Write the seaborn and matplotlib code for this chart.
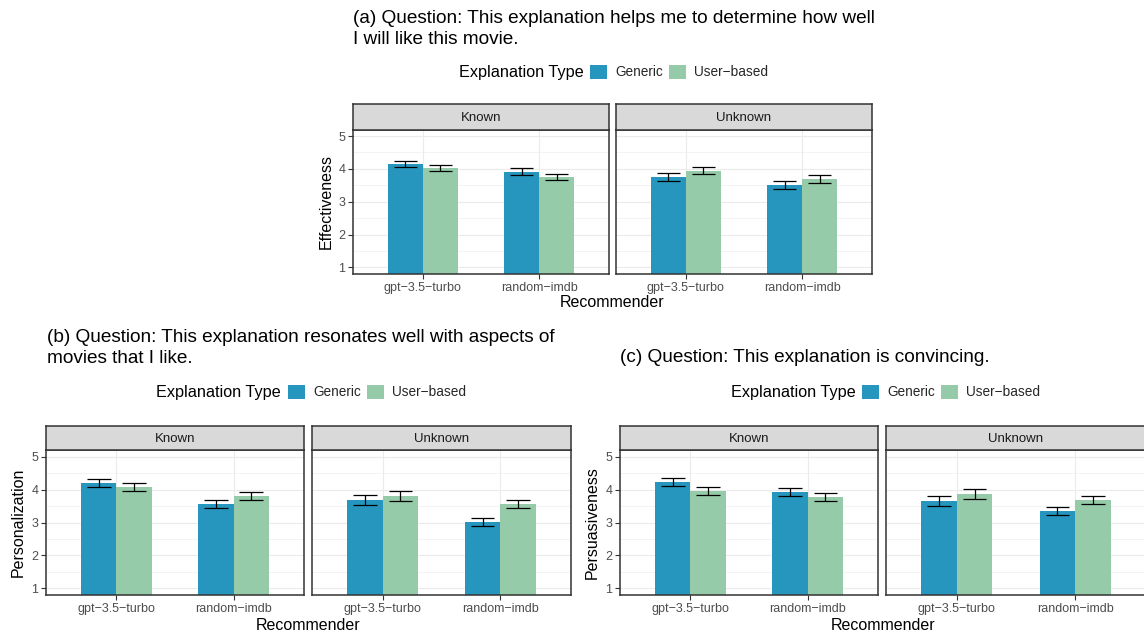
import matplotlib
matplotlib.use("Agg")
import matplotlib.pyplot as plt
from matplotlib.patches import Patch
from matplotlib.ticker import FixedLocator
import seaborn as sns
import pandas as pd

# ---------------- data ----------------
recommenders = ["gpt\u22123.5\u2212turbo", "random\u2212imdb"]
familiarity = ["Known", "Unknown"]
types = ["Generic", "User\u2212based"]

# order: Known/gpt, Known/random, Unknown/gpt, Unknown/random
eff_generic = [4.16, 3.92, 3.76, 3.51]
eff_generic_se = [0.09, 0.10, 0.12, 0.12]
eff_user = [4.04, 3.76, 3.95, 3.69]
eff_user_se = [0.09, 0.10, 0.12, 0.11]

pers_generic = [4.20, 3.56, 3.68, 3.02]
pers_generic_se = [0.11, 0.13, 0.16, 0.13]
pers_user = [4.08, 3.81, 3.81, 3.56]
pers_user_se = [0.11, 0.12, 0.15, 0.13]

persu_generic = [4.23, 3.93, 3.65, 3.35]
persu_generic_se = [0.11, 0.13, 0.16, 0.13]
persu_user = [3.96, 3.77, 3.87, 3.68]
persu_user_se = [0.12, 0.13, 0.15, 0.13]

y_ticks = [1, 2, 3, 4, 5]
titles = [
    "(a) Question: This explanation helps me to determine how well\nI will like this movie.",
    "(b) Question: This explanation resonates well with aspects of\nmovies that I like.",
    "(c) Question: This explanation is convincing.",
]
y_labels = ["Effectiveness", "Personalization", "Persuasiveness"]
colors = {"Generic": "#2696BE", "User\u2212based": "#95CBA9"}


def make_df(gen, gen_se, usr, usr_se):
    rows = []
    i = 0
    for fam in familiarity:
        for rec in recommenders:
            rows.append((fam, rec, types[0], gen[i], gen_se[i]))
            rows.append((fam, rec, types[1], usr[i], usr_se[i]))
            i += 1
    return pd.DataFrame(rows, columns=["Familiarity", "Recommender", "Type", "Score", "SE"])


dfs = [
    make_df(eff_generic, eff_generic_se, eff_user, eff_user_se),
    make_df(pers_generic, pers_generic_se, pers_user, pers_user_se),
    make_df(persu_generic, persu_generic_se, persu_user, persu_user_se),
]

# ---------------- layout (pixels) ----------------
W, H = 1144, 636
sns.set_theme(style="white")
plt.rcParams["font.family"] = ["Liberation Sans", "DejaVu Sans"]

fig = plt.figure(figsize=(W / 100, H / 100), dpi=100)
fig.patch.set_facecolor("white")


def rect(x0, y0, x1, y1):
    return [x0 / W, 1 - y1 / H, (x1 - x0) / W, (y1 - y0) / H]


layouts = [
    dict(xs=[(353, 609), (616, 872)], st=104, pt=129.5, pb=274,
         title=(353, 10), legend_y=72, leg_title_x=459, leg_key_x=590,
         ylab_x=326, xlab_y=303),
    dict(xs=[(46, 304), (312, 571)], st=426, pt=450, pb=595,
         title=(47, 329.5), legend_y=392, leg_title_x=156, leg_key_x=288,
         ylab_x=18, xlab_y=625),
    dict(xs=[(620, 878), (886, 1146)], st=426, pt=450, pb=595,
         title=(620, 349.5), legend_y=392, leg_title_x=731, leg_key_x=862,
         ylab_x=592, xlab_y=625),
]

border = "#333333"

for k, (df, lay) in enumerate(zip(dfs, layouts)):
    for j, fam in enumerate(familiarity):
        x0, x1 = lay["xs"][j]
        ax = fig.add_axes(rect(x0, lay["pt"], x1, lay["pb"]))
        sub = df[df["Familiarity"] == fam]
        sns.barplot(data=sub, x="Recommender", y="Score", hue="Type",
                    order=recommenders, hue_order=types, palette=colors,
                    width=0.6, errorbar=None, saturation=1, legend=False,
                    linewidth=0, edgecolor="none", ax=ax, zorder=2)
        for cont, t in zip(ax.containers, types):
            for bar, rec in zip(cont, recommenders):
                row = sub[(sub["Type"] == t) & (sub["Recommender"] == rec)].iloc[0]
                xc = bar.get_x() + bar.get_width() / 2
                lo, hi = row["Score"] - row["SE"], row["Score"] + row["SE"]
                ax.vlines(xc, lo, hi, color="black", lw=0.9, zorder=3)
                ax.hlines([lo, hi], xc - 0.1, xc + 0.1, color="black", lw=0.9, zorder=3)
        ax.set_xlim(-0.6, 1.6)
        ax.set_ylim(0.8, 5.2)
        ax.set_facecolor("white")
        ax.yaxis.set_major_locator(FixedLocator(y_ticks))
        ax.yaxis.set_minor_locator(FixedLocator([1.5, 2.5, 3.5, 4.5]))
        ax.grid(True, which="major", color="#EBEBEB", lw=0.8, zorder=0)
        ax.grid(True, which="minor", axis="y", color="#EBEBEB", lw=0.4, zorder=0)
        ax.set_axisbelow(True)
        for s in ax.spines.values():
            s.set_color(border)
            s.set_linewidth(1.1)
            s.set_visible(True)
        ax.tick_params(axis="both", which="major", direction="out", length=3.5,
                       width=0.8, color=border, labelsize=9, labelcolor="#4D4D4D", pad=2)
        ax.tick_params(axis="both", which="minor", length=0)
        ax.tick_params(axis="x", bottom=True)
        ax.tick_params(axis="y", left=True)
        if j == 0:
            ax.set_yticklabels([str(v) for v in y_ticks])
        else:
            ax.tick_params(axis="y", left=False, labelleft=False)
        ax.set_xlabel("")
        ax.set_ylabel("")
        # strip
        sax = fig.add_axes(rect(x0, lay["st"], x1, lay["pt"]))
        sax.set_facecolor("#D9D9D9")
        sax.set_xticks([])
        sax.set_yticks([])
        for s in sax.spines.values():
            s.set_color(border)
            s.set_linewidth(1.1)
        sax.text(0.5, 0.45, fam, ha="center", va="center", fontsize=9.5,
                 color="#1A1A1A", transform=sax.transAxes)

    # axis titles
    left = lay["xs"][0][0]
    right = lay["xs"][1][1]
    ymid = (lay["pt"] + lay["pb"]) / 2
    fig.text(lay["ylab_x"] / W, 1 - ymid / H, y_labels[k], rotation=90,
             ha="center", va="center", fontsize=11.5, color="black")
    fig.text(((left + right) / 2) / W, 1 - lay["xlab_y"] / H, "Recommender",
             ha="center", va="center", fontsize=11.5, color="black")
    # title
    tx, ty = lay["title"]
    fig.text(tx / W, 1 - ty / H, titles[k], ha="left", va="top",
             fontsize=13.7, color="black", linespacing=1.3)
    # legend
    fig.text(lay["leg_title_x"] / W, 1 - lay["legend_y"] / H, "Explanation Type",
             ha="left", va="center", fontsize=11.7, color="black")
    handles = [Patch(facecolor=colors[t], edgecolor="none") for t in types]
    fig.legend(handles, types, ncol=2, loc="center left",
               bbox_to_anchor=(lay["leg_key_x"] / W, 1 - lay["legend_y"] / H),
               frameon=False, fontsize=9.8, handlelength=1.24, handleheight=1.24,
               handletextpad=0.6, columnspacing=0.45, borderpad=0, borderaxespad=0)

fig.savefig("out.png", dpi=100)
